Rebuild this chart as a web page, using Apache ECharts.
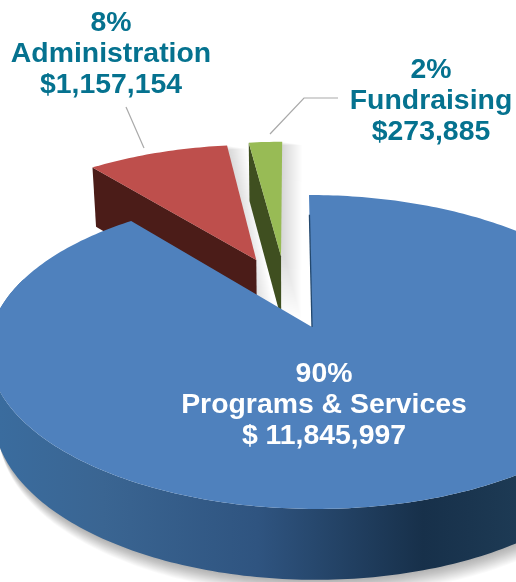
<!DOCTYPE html>
<html>
<head>
<meta charset="utf-8">
<style>html,body{margin:0;padding:0;background:#fff}#c{width:516px;height:582px}</style>
<script src="https://cdn.jsdelivr.net/npm/echarts@6/dist/echarts.min.js"></script>
</head>
<body>
<div id="c"></div>
<script>
const categories = ['Programs & Services', 'Administration', 'Fundraising'];
const percents = [90, 8, 2];
const values = [11845997, 1157154, 273885];
const amounts = ['$ 11,845,997', '$1,157,154', '$273,885'];

// view model: a tilted disc, projected with perspective
const view = {cx: 312, cy: 327, vx: 290, a: 320, b: 153, k: 0.159, depth: 65, converge: 0.018};
const explode = [[0, 0], [-0.182, 0.471], [-0.099, 0.499]];
const topColors = ['#4f81bd', '#be4f4c', '#98bb55'];
const wallColors = ['#2f5a85', '#4b1c18', '#3f4f20'];
const textColors = ['#ffffff', '#05728f', '#05728f'];
const labelPos = [[324, 374], [111, 23], [431, 70]];
const leaders = [null, [[126, 107], [144, 148]], [[270, 134], [304, 98], [338, 98]]];

function proj(X, Y, low) {
  const w = 1 + view.k * Y;
  let x = view.vx + (view.a * X + (view.cx - view.vx)) / w;
  let y = view.cy - view.b * Y / w;
  if (low) {
    x = view.vx + (x - view.vx) * (1 - view.converge);
    y += view.depth * Math.pow(w, -0.5);
  }
  return [x, y];
}

const total = values.reduce((s, p) => s + p, 0);
const starts = [];
values.reduce((s, p, i) => { starts[i] = s; return s + p; }, 0);

function rim(i, low) {
  const from = starts[i] / total * 2 * Math.PI;
  const to = (starts[i] + values[i]) / total * 2 * Math.PI;
  const n = Math.max(8, Math.round((to - from) * 180 / Math.PI));
  const pts = [];
  for (let j = 0; j <= n; j++) {
    const t = from + (to - from) * j / n;
    pts.push(proj(explode[i][0] + Math.sin(t), explode[i][1] + Math.cos(t), low));
  }
  return pts;
}

// soft directional shadow: the shape smeared in one direction with stacked translucent fills
function smear(points, dx, dy, layers, alpha) {
  const out = [];
  for (let j = layers; j >= 1; j--) {
    out.push({
      type: 'polygon',
      shape: {points: points.map(p => [p[0] + dx * j / layers, p[1] + dy * j / layers])},
      style: {fill: 'rgba(0,0,0,' + alpha + ')'}
    });
  }
  return out;
}

function renderItem(params, api) {
  const i = api.value(0);
  let children = [];
  const apex = proj(explode[i][0], explode[i][1], false);
  const apexLow = proj(explode[i][0], explode[i][1], true);
  const top = rim(i, false);
  const low = rim(i, true);
  if (leaders[i]) {
    children.push({type: 'polyline', shape: {points: leaders[i]}, style: {stroke: '#a9a9a9', lineWidth: 1.2, fill: null}});
  }
  if (i === 0) {
    const front = top.slice(85, 290).concat(low.slice(85, 290).reverse());
    children = children.concat(smear(front, 5, 16, 16, 0.018));
    children.push({
      type: 'polygon',
      shape: {points: front},
      style: {
        fill: new echarts.graphic.LinearGradient(0, 0, 516, 0, [
          {offset: 0, color: '#3a6c9e'}, {offset: 0.2, color: '#3a6592'},
          {offset: 0.5, color: '#2f5480'}, {offset: 0.82, color: '#17304a'},
          {offset: 1, color: '#1d3a54'}], true)
      }
    });
  } else {
    const wall = [apex, top[0], low[0], apexLow];
    const silhouette = [apexLow, low[0], top[0]].concat(top.slice(1));
    children = children.concat(smear(silhouette, 20, 3, 20, 0.009));
    children.push({type: 'polygon', shape: {points: wall}, style: {fill: wallColors[i]}});
  }
  children.push({
    type: 'polygon',
    shape: {points: [apex].concat(top)},
    style: {fill: topColors[i]}
  });
  if (i === 0) {
    const a = top[0];
    const mid = [apex[0] + (a[0] - apex[0]) * 0.85, apex[1] + (a[1] - apex[1]) * 0.85];
    children.push({type: 'line', shape: {x1: apex[0], y1: apex[1], x2: mid[0], y2: mid[1]},
      style: {stroke: '#23486e', lineWidth: 1.3}});
  }
  const lines = [percents[i] + '%', categories[i], amounts[i]];
  lines.forEach((t, j) => {
    children.push({
      type: 'text',
      x: labelPos[i][0], y: labelPos[i][1] + j * 31,
      style: {text: t, fill: textColors[i], font: 'bold 28.4px "Liberation Sans", Arial, sans-serif', align: 'center', verticalAlign: 'middle'}
    });
  });
  return {type: 'group', children};
}

const chart = echarts.init(document.getElementById('c'), null, {renderer: 'canvas'});
chart.setOption({
  animation: false,
  backgroundColor: '#ffffff',
  series: [{
    type: 'custom',
    coordinateSystem: 'none',
    silent: true,
    clip: false,
    renderItem,
    data: [[1], [2], [0]]
  }]
});
</script>
</body>
</html>
